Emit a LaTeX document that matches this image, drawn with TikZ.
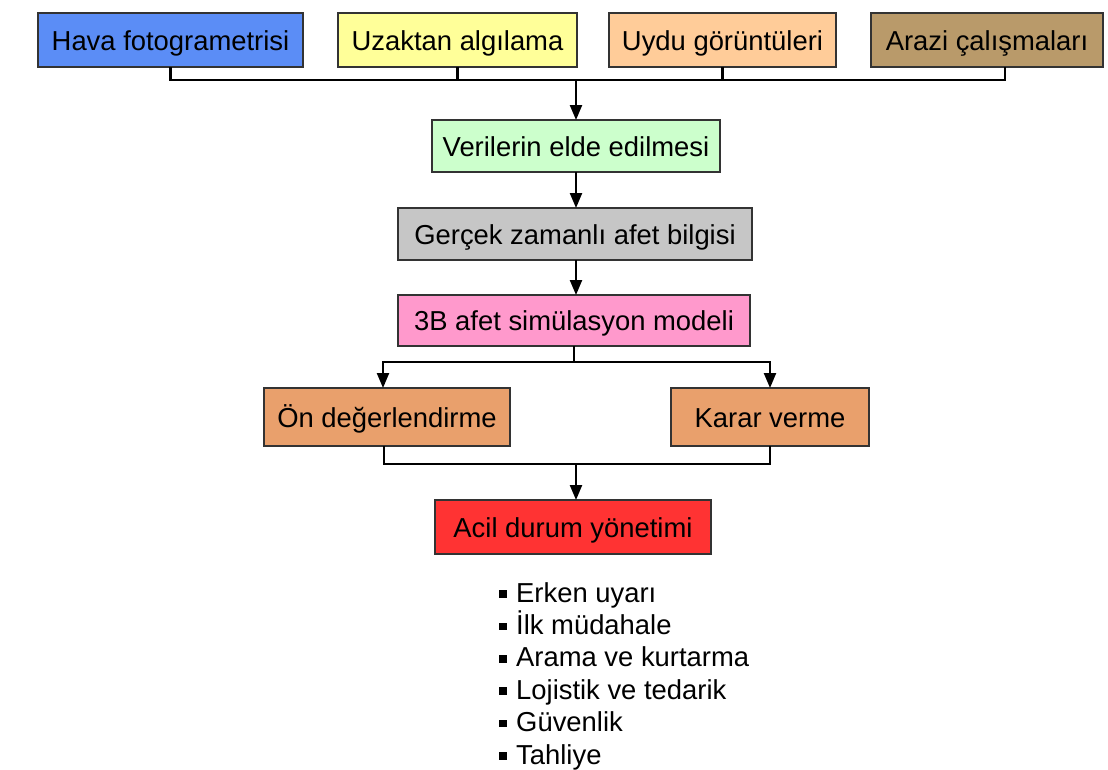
\documentclass[tikz,border=0pt]{standalone}
\usepackage{fontspec}
\setmainfont{Liberation Sans}
\usetikzlibrary{arrows.meta}
\definecolor{cblue}{HTML}{5B8DF6}
\definecolor{cyellow}{HTML}{FFFF99}
\definecolor{cpeach}{HTML}{FFCC99}
\definecolor{ctan}{HTML}{B99A6A}
\definecolor{cgreen}{HTML}{CCFFCC}
\definecolor{cgray}{HTML}{C6C6C6}
\definecolor{cpink}{HTML}{FF99CC}
\definecolor{corange}{HTML}{E9A06C}
\definecolor{cred}{HTML}{FF3333}
\begin{document}
\begin{tikzpicture}[x=1pt,y=-1pt,
  box/.style={draw=black!80, line width=1.5pt, inner sep=0pt, outer sep=0pt,
    anchor=north west, font=\fontsize{27.4}{33}\selectfont,
    text height=21pt, text depth=1pt},
  conn/.style={line width=2.3pt, black},
  arr/.style={conn, -{Triangle[length=15pt,width=12pt]}},
  item/.style={anchor=west, inner sep=0pt, font=\fontsize{27.4}{33}\selectfont,
    text height=21pt, text depth=1pt},
  bul/.style={fill=black, minimum size=7.5pt, inner sep=0pt}]
\useasboundingbox (0,0) rectangle (1108,769);

% source boxes
\node[box, fill=cblue,   minimum width=265pt, minimum height=54pt] (hava)  at (38,13)  {Hava fotogrametrisi};
\node[box, fill=cyellow, minimum width=239pt, minimum height=54pt] (uzak)  at (338,13) {Uzaktan algılama};
\node[box, fill=cpeach,  minimum width=227pt, minimum height=54pt] (uydu)  at (609,13) {Uydu görüntüleri};
\node[box, fill=ctan,    minimum width=232pt, minimum height=54pt] (arazi) at (871,13) {Arazi çalışmaları};

% processing chain
\node[box, fill=cgreen,  minimum width=288pt, minimum height=52pt] (veri)   at (432,120) {Verilerin elde edilmesi};
\node[box, fill=cgray,   minimum width=354pt, minimum height=52pt] (gercek) at (398,208) {Gerçek zamanlı afet bilgisi};
\node[box, fill=cpink,   minimum width=352pt, minimum height=51pt] (model)  at (398,295) {3B afet simülasyon modeli};
\node[box, fill=corange, minimum width=246pt, minimum height=58pt] (on)     at (264,388) {Ön değerlendirme};
\node[box, fill=corange, minimum width=198pt, minimum height=58pt] (karar)  at (671,388) {Karar verme};
\node[box, fill=cred,    minimum width=276pt, minimum height=54pt] (acil)   at (435,500) {Acil durum yönetimi};

% collecting bus under the source boxes
\coordinate (topbus) at (576,80);
\draw[conn] (hava.south) -- (hava.south |- topbus)
  -- ([xshift=18pt]arazi.south |- topbus) -- ([xshift=18pt]arazi.south);
\draw[conn] (uzak.south) -- (uzak.south |- topbus);
\draw[conn] (uydu.south) -- (uydu.south |- topbus);
\draw[arr] (topbus) -- (topbus |- veri.north);

\draw[arr] (topbus |- veri.south) -- (topbus |- gercek.north);
\draw[arr] (topbus |- gercek.south) -- (topbus |- model.north);

% split towards the two assessment boxes
\coordinate (split) at (574,362);
\draw[conn] (split |- model.south) -- (split);
\draw[arr] (split) -| ([xshift=-4pt]on.north);
\draw[arr] (split) -| (karar.north);

% join into emergency management
\coordinate (join) at (576,464);
\draw[conn] ([xshift=-3pt]on.south) -- ([xshift=-3pt]on.south |- join)
  -- (karar.south |- join) -- (karar.south);
\draw[arr] (join) -- (join |- acil.north);

% task list
\foreach \t [count=\i] in {Erken uyarı, İlk müdahale, Arama ve kurtarma,
                          Lojistik ve tedarik, Güvenlik, Tahliye} {
  \node[bul] (b\i) at (503,{592+32.4*(\i-1)+2}) {};
  \node[item] (t\i) at (516,{592+32.4*(\i-1)}) {\t};
}
\end{tikzpicture}
\end{document}
